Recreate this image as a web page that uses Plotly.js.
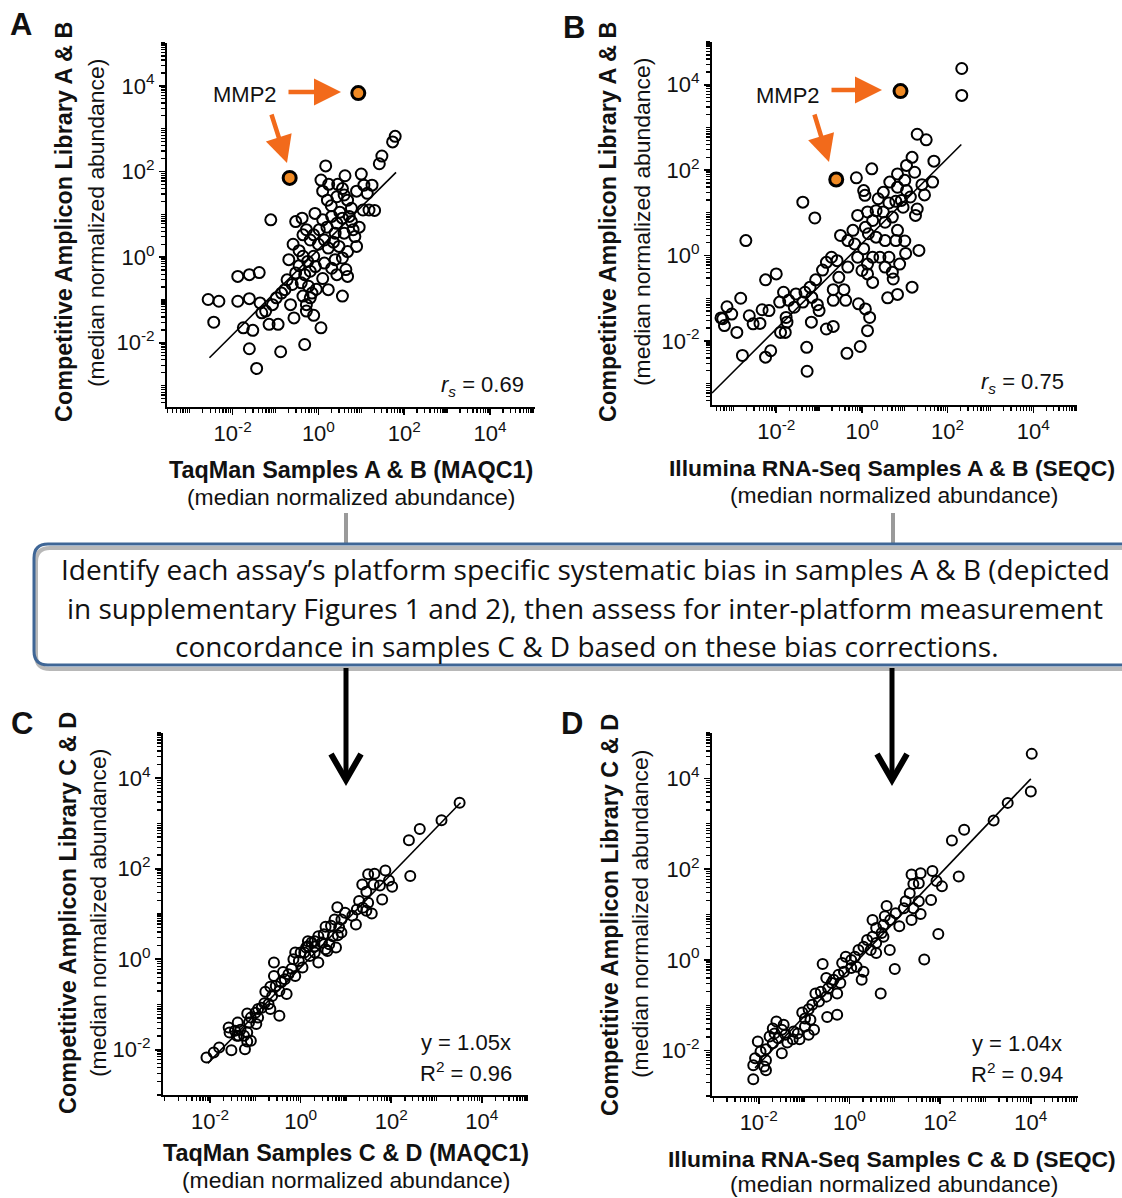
<!DOCTYPE html>
<html>
<head>
<meta charset="utf-8">
<script src="https://cdn.plot.ly/plotly-3.0.1.min.js"></script>
<style>html,body{margin:0;padding:0;background:#fff;}#chart{width:1122px;height:1198px;}</style>
</head>
<body>
<div id="chart"></div>
<script>
// ---- Data (log10 of median normalized abundance), [x, y] pairs ----
const panelA_log10 = [[1.79,2.82],[1.73,2.69],[1.48,2.36],[1.42,2.18],[0.17,2.13],[0.62,1.9],[1.0,1.94],[0.06,1.8],[0.24,1.7],[0.45,1.7],[0.56,1.6],[0.89,1.54],[1.06,1.68],[1.25,1.68],[1.14,1.49],[0.1,1.54],[0.21,1.33],[0.43,1.41],[0.6,1.45],[0.68,1.33],[1.04,1.1],[1.18,1.1],[1.31,1.09],[0.77,1.14],[-1.11,0.87],[-0.53,0.83],[-0.38,0.91],[-0.08,1.02],[0.1,0.87],[-0.28,0.64],[-0.11,0.52],[0.02,0.64],[-0.36,0.52],[-0.59,0.3],[-0.19,0.4],[0.14,0.4],[0.31,0.95],[0.43,0.79],[0.56,0.91],[0.77,0.83],[0.81,0.64],[0.85,0.48],[0.89,0.25],[0.6,0.56],[0.39,0.56],[0.23,0.21],[0.48,0.25],[0.68,0.13],[0.39,-0.06],[0.56,-0.02],[0.14,-0.14],[-0.07,-0.22],[-0.36,0.02],[-0.69,-0.06],[-0.11,0.02],[0.31,-0.26],[0.64,-0.29],[0.43,-0.41],[0.68,-0.45],[0.23,-0.76],[0.56,-0.91],[-0.32,-0.41],[-0.19,-0.33],[-0.53,-0.37],[-0.73,-0.53],[-0.61,-0.64],[-0.4,-0.6],[-0.23,-0.68],[-0.15,-0.84],[-0.36,-0.91],[-0.28,-1.11],[-0.19,-0.95],[-0.65,-1.11],[-0.28,-1.26],[-0.11,-1.36],[-0.57,-1.42],[0.06,-1.65],[-0.32,-2.04],[-1.88,-0.45],[-1.61,-0.41],[-1.38,-0.36],[-2.57,-0.99],[-2.32,-1.03],[-1.88,-1.03],[-1.61,-0.97],[-2.44,-1.52],[-1.36,-1.07],[-1.23,-1.26],[-1.07,-1.11],[-0.98,-0.95],[-0.86,-0.84],[-0.78,-0.76],[-1.32,-1.3],[-1.75,-1.65],[-1.53,-1.71],[-1.15,-1.57],[-0.94,-1.57],[-1.61,-2.14],[-0.88,-2.21],[-1.44,-2.6],[0.3,1.2],[0.5,1.05],[0.0,0.3],[-0.45,0.15],[0.2,0.7],[0.72,0.95],[0.95,0.7],[0.35,0.35],[-0.25,-0.1],[0.1,-0.5],[-0.05,-0.75],[-0.45,-0.2]];
const panelA_MMP2_log10 = [[0.93,3.83],[-0.67,1.85]];
const panelA_fit_log10 = [[-2.54,-2.35],[1.81,1.98]];

const panelB_log10 = [[2.33,4.38],[2.33,3.75],[1.29,2.84],[1.5,2.71],[1.17,2.3],[1.68,2.21],[1.04,2.11],[1.23,1.95],[0.23,2.03],[-0.13,1.82],[0.83,1.91],[1.0,1.76],[0.65,1.72],[1.65,1.72],[1.4,1.66],[0.83,1.6],[0.5,1.48],[0.04,1.52],[0.07,1.41],[1.46,1.42],[1.04,1.52],[1.13,1.37],[0.38,1.33],[0.63,1.23],[0.79,1.27],[0.96,1.13],[1.29,1.09],[0.92,1.29],[1.25,0.94],[-1.38,1.25],[-1.1,0.88],[0.13,1.02],[0.33,1.05],[0.5,1.02],[-0.1,0.94],[0.25,0.82],[0.54,0.78],[0.83,0.59],[0.71,0.9],[0.08,0.66],[-0.21,0.59],[0.15,0.51],[0.33,0.43],[-0.5,0.47],[-0.33,0.35],[-0.17,0.27],[0.54,0.35],[0.79,0.35],[1.0,0.34],[1.33,0.12],[1.02,0.05],[0.04,0.16],[0.25,-0.04],[0.42,-0.04],[0.63,-0.04],[-0.1,-0.04],[0.13,-0.2],[0.54,-0.27],[0.71,-0.39],[0.88,-0.2],[0.73,-0.55],[0.25,-0.63],[0,-0.35],[0.13,-0.43],[1.17,-0.74],[0.6,-0.99],[0.83,-0.91],[-0.71,-0.04],[-0.58,-0.12],[-0.83,-0.16],[-0.33,-0.27],[-0.54,-0.51],[-0.92,-0.34],[-1.08,-0.57],[-1.21,-0.74],[-1.33,-0.86],[-1.17,-0.98],[-0.67,-0.8],[-0.42,-0.8],[-0.38,-1.05],[-0.67,-1.05],[-0.08,-1.13],[0.08,-1.25],[0.18,-1.45],[0.13,-1.76],[-0.04,-2.13],[-0.35,-2.29],[-1.29,-2.15],[-1.28,-2.71],[-1.18,-1.56],[-0.83,-1.72],[-0.67,-1.66],[-1.0,-1.29],[-1.04,-1.15],[-1.38,-1.09],[-1.54,-0.9],[-1.58,-1.21],[-1.77,-1.45],[-1.75,-1.56],[-1.9,-1.8],[-1.79,-1.8],[-1.92,-1.09],[-1.83,-0.86],[-2.0,-0.43],[-2.25,-0.57],[-2.17,-1.29],[-2.33,-1.27],[-2.38,-1.59],[-2.54,-1.6],[-2.63,-1.41],[-2.83,-1.0],[-2.92,-1.8],[-2.79,-2.34],[-2.25,-2.38],[-2.13,-2.23],[-3.15,-1.2],[-3.04,-1.37],[-3.25,-1.48],[-3.21,-1.64],[-3.29,-1.46],[-2.71,0.35],[-1.71,-1.05]];
const panelB_MMP2_log10 = [[0.9,3.85],[-0.6,1.78]];
const panelB_fit_log10 = [[-3.5,-3.22],[2.32,2.6]];

const panelC_log10 = [[3.51,3.46],[3.11,3.07],[2.63,2.88],[2.39,2.63],[2.42,1.84],[1.87,1.96],[1.63,1.89],[1.36,1.65],[1.49,1.88],[1.61,1.65],[1.75,1.63],[1.95,1.74],[2.02,1.6],[1.8,1.32],[1.45,1.49],[1.49,1.25],[1.29,1.29],[1.37,1.14],[1.24,1.1],[1.57,1.01],[1.45,1.07],[1.14,0.96],[1.22,0.77],[0.81,1.15],[0.98,1.03],[0.9,0.88],[0.75,0.88],[0.67,0.74],[0.85,0.7],[0.55,0.72],[0.51,0.55],[0.71,0.51],[0.82,0.53],[0.9,0.59],[0.39,0.51],[0.31,0.4],[0.47,0.37],[0.63,0.33],[0.78,0.26],[0.55,0.22],[0.31,0.15],[0.16,0.29],[0.08,0.15],[0.2,0.07],[0.39,-0.07],[0.59,0.18],[-0.04,-0.04],[-0.16,0],[0.04,-0.18],[-0.2,-0.21],[-0.12,-0.37],[-0.27,-0.33],[-0.39,-0.28],[-0.59,-0.07],[-0.59,-0.37],[-0.43,-0.51],[-0.35,-0.44],[-0.55,-0.59],[-0.67,-0.61],[-0.47,-0.7],[-0.31,-0.77],[-0.63,-0.81],[-0.78,-0.72],[-0.8,-0.97],[-0.71,-0.99],[-0.86,-1.07],[-0.94,-1.1],[-1.0,-1.18],[-0.94,-1.29],[-0.67,-1.1],[-0.47,-1.25],[-1.1,-1.29],[-1.18,-1.2],[-0.98,-1.43],[-1.14,-1.4],[-1.18,-1.62],[-1.25,-1.69],[-1.23,-1.99],[-1.18,-1.82],[-1.1,-1.8],[-1.39,-1.4],[-1.33,-1.56],[-1.45,-1.58],[-1.57,-1.62],[-1.41,-1.69],[-1.59,-1.51],[-1.37,-1.69],[-1.53,-2.01],[-1.8,-1.95],[-1.92,-2.06],[-2.08,-2.17],[0,0.15],[-0.12,0.15],[0.12,0.26],[0.24,0.37],[0.31,0.28],[0.16,0.4]];
const panelC_fit_log10 = [[-2.05,-2.3],[3.53,3.46]];

const panelD_log10 = [[4.02,4.54],[4.0,3.71],[3.49,3.46],[3.18,3.07],[2.53,2.87],[2.26,2.63],[2.41,1.84],[1.83,1.96],[2.04,1.62],[1.92,1.74],[1.37,1.88],[1.57,1.91],[1.41,1.67],[1.53,1.69],[1.33,1.47],[1.8,1.32],[1.53,1.29],[1.24,1.29],[1.2,1.14],[1.41,1.14],[1.37,0.88],[1.57,1.01],[1.96,0.57],[1.65,0.01],[0.82,1.19],[1.02,1.03],[1.1,0.74],[0.9,0.88],[0.78,0.96],[0.75,0.77],[0.59,0.7],[0.51,0.88],[0.71,0.59],[0.51,0.51],[0.39,0.44],[0.59,0.37],[0.75,0.51],[0.31,0.29],[0.47,0.22],[0.59,0.15],[0.89,0.22],[1.0,-0.2],[0.69,-0.74],[0.2,0.22],[0.12,0.07],[0.04,0],[-0.08,0.07],[-0.16,-0.07],[0.16,-0.15],[0.04,-0.18],[0.31,-0.26],[0.27,-0.44],[-0.12,-0.26],[-0.24,-0.33],[-0.35,-0.44],[-0.2,-0.51],[-0.59,-0.09],[-0.51,-0.4],[-0.39,-0.51],[-0.47,-0.63],[-0.63,-0.7],[-0.75,-0.74],[-0.51,-0.81],[-0.27,-0.74],[-0.67,-0.92],[-0.82,-0.99],[-0.9,-1.09],[-1.04,-1.16],[-0.49,-1.26],[-0.27,-1.21],[-0.86,-1.32],[-0.98,-1.29],[-0.78,-1.54],[-0.9,-1.65],[-1.1,-1.75],[-1.25,-1.75],[-1.14,-1.62],[-0.98,-1.47],[-1.23,-1.58],[-1.37,-1.82],[-1.41,-1.65],[-1.61,-1.36],[-1.69,-1.51],[-1.45,-1.43],[-1.49,-1.54],[-1.65,-1.62],[-1.57,-1.73],[-1.76,-1.69],[-1.69,-1.84],[-1.49,-2.06],[-1.84,-1.97],[-1.96,-2.02],[-2.02,-1.8],[-2.08,-2.17],[-1.84,-2.21],[-2.12,-2.32],[-1.84,-2.43],[-2.12,-2.63],[-1.88,-2.35]];
const panelD_fit_log10 = [[-2.08,-2.38],[4.0,3.99]];

const tickExponents = [-2, 0, 2, 4];
const statA = '<i>r</i><sub><i>s</i></sub> = 0.69';
const statB = '<i>r</i><sub><i>s</i></sub> = 0.75';
const statC = ['y = 1.05x', 'R<sup>2</sup> = 0.96'];
const statD = ['y = 1.04x', 'R<sup>2</sup> = 0.94'];
const boxLines = ['Identify each assay\u2019s platform specific systematic bias in samples A & B (depicted',
  'in supplementary Figures 1 and 2), then assess for inter-platform measurement',
  'concordance in samples C & D based on these bias corrections.'];

// ---- Layout helpers ----
const W = 1122, H = 1198;
const px = x => x / W, py = y => 1 - y / H;
const P = (x, y) => px(x).toFixed(5) + ',' + py(y).toFixed(5);
const FONT = 'Liberation Sans, Arial, Helvetica, sans-serif';
const BOXFONT = 'Open Sans, Lato, Liberation Sans, sans-serif';
const pow = v => Math.pow(10, v);

function logAxis(range, d0, d1, anchor, horizontal) {
  const majors = [], labels = [], minors = [];
  for (let e = Math.floor(range[0]); e <= Math.floor(range[1]); e++) {
    if (e >= range[0] && tickExponents.includes(e)) {
      majors.push(pow(e));
      labels.push('10<sup>' + e + '</sup>');
    } else if (e >= range[0]) {
      minors.push(pow(e));
    }
    for (let k = 2; k <= 9; k++) {
      const lv = e + Math.log10(k);
      if (lv > range[0] && lv < range[1]) minors.push(k * pow(e));
    }
  }
  const dom = horizontal ? [px(d0), px(d1)] : [py(d1), py(d0)];
  return {
    type: 'log', range: range, domain: dom, anchor: anchor,
    showline: true, linewidth: 2, linecolor: '#000', showgrid: false, zeroline: false,
    ticks: 'outside', ticklen: 6, tickwidth: 1.6, tickcolor: '#000',
    tickmode: 'array', tickvals: majors, ticktext: labels,
    tickfont: {family: FONT, size: 22, color: '#111'},
    minor: {tickmode: 'array', tickvals: minors, ticks: 'outside', ticklen: 4, tickwidth: 1.3, tickcolor: '#000', showgrid: false},
    fixedrange: true
  };
}

function pts(arr, xa, ya, size) {
  return {x: arr.map(p => pow(p[0])), y: arr.map(p => pow(p[1])), xaxis: xa, yaxis: ya,
    mode: 'markers', type: 'scatter', hoverinfo: 'skip',
    marker: {symbol: 'circle-open', size: size, color: '#000', line: {width: 2, color: '#000'}}};
}
function fit(arr, xa, ya) {
  return {x: arr.map(p => pow(p[0])), y: arr.map(p => pow(p[1])), xaxis: xa, yaxis: ya,
    mode: 'lines', type: 'scatter', hoverinfo: 'skip', line: {color: '#000', width: 1.6}};
}
function mmp2(arr, xa, ya) {
  return {x: arr.map(p => pow(p[0])), y: arr.map(p => pow(p[1])), xaxis: xa, yaxis: ya,
    mode: 'markers', type: 'scatter', hoverinfo: 'skip',
    marker: {symbol: 'circle', size: 13, color: '#F08A24', line: {width: 3, color: '#000'}}};
}

const data = [
  fit(panelA_fit_log10, 'x', 'y'), pts(panelA_log10, 'x', 'y', 11), mmp2(panelA_MMP2_log10, 'x', 'y'),
  fit(panelB_fit_log10, 'x2', 'y2'), pts(panelB_log10, 'x2', 'y2', 11), mmp2(panelB_MMP2_log10, 'x2', 'y2'),
  fit(panelC_fit_log10, 'x3', 'y3'), pts(panelC_log10, 'x3', 'y3', 10),
  fit(panelD_fit_log10, 'x4', 'y4'), pts(panelD_log10, 'x4', 'y4', 10)
];

function txt(x, y, text, size, opts) {
  return Object.assign({xref: 'paper', yref: 'paper', x: px(x), y: py(y), text: text, showarrow: false,
    xanchor: 'center', yanchor: 'middle', font: {family: FONT, size: size, color: '#111'}}, opts || {});
}
const ORANGE = '#F26A1B';
function arrow(x0, y0, x1, y1) {
  return {xref: 'paper', yref: 'paper', x: px(x1), y: py(y1), ax: x0 - x1, ay: y0 - y1, text: '',
    showarrow: true, arrowhead: 2, arrowsize: 1.2, arrowwidth: 4.5, arrowcolor: ORANGE};
}
const TB = 23.4, TBW = 22.9, TR = 22.9;
const annotations = [
  txt(21, 24, '<b>A</b>', 31), txt(574, 27, '<b>B</b>', 31), txt(22, 723, '<b>C</b>', 31), txt(572, 723, '<b>D</b>', 31),
  // Panel A titles
  txt(351, 470, '<b>TaqMan Samples A & B (MAQC1)</b>', TB), txt(351, 497, '(median normalized abundance)', TR),
  txt(64, 222, '<b>Competitive Amplicon Library A & B</b>', TB, {textangle: -90}),
  txt(96, 223, '(median normalized abundance)', TR, {textangle: -90}),
  // Panel B titles
  txt(892, 468, '<b>Illumina RNA-Seq Samples A & B (SEQC)</b>', TBW), txt(894, 495, '(median normalized abundance)', TR),
  txt(608, 222, '<b>Competitive Amplicon Library A & B</b>', TB, {textangle: -90}),
  txt(642, 222, '(median normalized abundance)', TR, {textangle: -90}),
  // Panel C titles
  txt(346, 1153, '<b>TaqMan Samples C & D (MAQC1)</b>', TB), txt(346, 1180, '(median normalized abundance)', TR),
  txt(68, 913, '<b>Competitive Amplicon Library C & D</b>', TB, {textangle: -90}),
  txt(98, 913, '(median normalized abundance)', TR, {textangle: -90}),
  // Panel D titles
  txt(892, 1159, '<b>Illumina RNA-Seq Samples C & D (SEQC)</b>', TBW), txt(894, 1184, '(median normalized abundance)', TR),
  txt(610, 915, '<b>Competitive Amplicon Library C & D</b>', TB, {textangle: -90}),
  txt(640, 914, '(median normalized abundance)', TR, {textangle: -90}),
  // stats
  txt(526, 386, statA, 22, {xanchor: 'right'}), txt(1066, 383, statB, 22, {xanchor: 'right'}),
  txt(513, 1042, statC[0], 22, {xanchor: 'right'}), txt(514, 1072, statC[1], 22, {xanchor: 'right'}),
  txt(1064, 1043, statD[0], 22, {xanchor: 'right'}), txt(1065, 1073, statD[1], 22, {xanchor: 'right'}),
  // MMP2 labels and arrows
  txt(245, 94, 'MMP2', 22), txt(788, 95, 'MMP2', 22),
  arrow(287, 92, 341, 92), arrow(271, 113, 287, 163),
  arrow(830, 90, 882, 90), arrow(814, 113, 829, 162),
  // central box text
  txt(585, 569, boxLines[0], 28, {font: {family: BOXFONT, size: 28, color: '#111'}}),
  txt(585, 608, boxLines[1], 28, {font: {family: BOXFONT, size: 28, color: '#111'}}),
  txt(587, 646, boxLines[2], 28, {font: {family: BOXFONT, size: 28, color: '#111'}})
];

const r = 14, bx0 = 34, by0 = 544, by1 = 665, bx1 = 1140;
const boxPath = (dx, dy) => 'M ' + P(bx1 + dx, by0 + dy) + ' L ' + P(bx0 + r + dx, by0 + dy) +
  ' Q ' + P(bx0 + dx, by0 + dy) + ' ' + P(bx0 + dx, by0 + r + dy) +
  ' L ' + P(bx0 + dx, by1 - r + dy) + ' Q ' + P(bx0 + dx, by1 + dy) + ' ' + P(bx0 + r + dx, by1 + dy) +
  ' L ' + P(bx1 + dx, by1 + dy);
function seg(x0, y0, x1, y1, color, width) {
  return {type: 'line', xref: 'paper', yref: 'paper', x0: px(x0), y0: py(y0), x1: px(x1), y1: py(y1), line: {color: color, width: width}};
}
const shapes = [
  seg(346, 513, 346, 544, '#9a9a9a', 4), seg(893, 513, 893, 544, '#9a9a9a', 4),
  {type: 'path', xref: 'paper', yref: 'paper', path: boxPath(2, 4), line: {color: 'rgba(0,0,0,0.28)', width: 4}},
  {type: 'path', xref: 'paper', yref: 'paper', path: boxPath(0, 0), line: {color: '#3F6696', width: 3}},
  seg(346, 668, 346, 779, '#000', 5), seg(892, 668, 892, 779, '#000', 5),
  {type: 'path', xref: 'paper', yref: 'paper', path: 'M ' + P(331, 754) + ' L ' + P(346, 780) + ' L ' + P(361, 754), line: {color: '#000', width: 6}},
  {type: 'path', xref: 'paper', yref: 'paper', path: 'M ' + P(877, 754) + ' L ' + P(892, 780) + ' L ' + P(907, 754), line: {color: '#000', width: 6}}
];

const layout = {
  width: W, height: H, margin: {l: 0, r: 0, t: 0, b: 0}, showlegend: false,
  paper_bgcolor: '#fff', plot_bgcolor: 'rgba(0,0,0,0)', font: {family: FONT, color: '#111'},
  xaxis: logAxis([-3.53, 5.05], 167, 535, 'y', true), yaxis: logAxis([-3.5, 5.0], 43, 407, 'x', false),
  xaxis2: logAxis([-3.5, 5.02], 712, 1077, 'y2', true), yaxis2: logAxis([-3.5, 5.0], 42, 405, 'x2', false),
  xaxis3: logAxis([-3.04, 5.02], 163, 528, 'y3', true), yaxis3: logAxis([-3.0, 5.0], 733, 1095, 'x3', false),
  xaxis4: logAxis([-3.03, 5.04], 712, 1078, 'y4', true), yaxis4: logAxis([-3.0, 5.0], 733, 1096, 'x4', false),
  annotations: annotations, shapes: shapes
};

Plotly.newPlot('chart', data, layout, {staticPlot: true, displayModeBar: false});
</script>
</body>
</html>
